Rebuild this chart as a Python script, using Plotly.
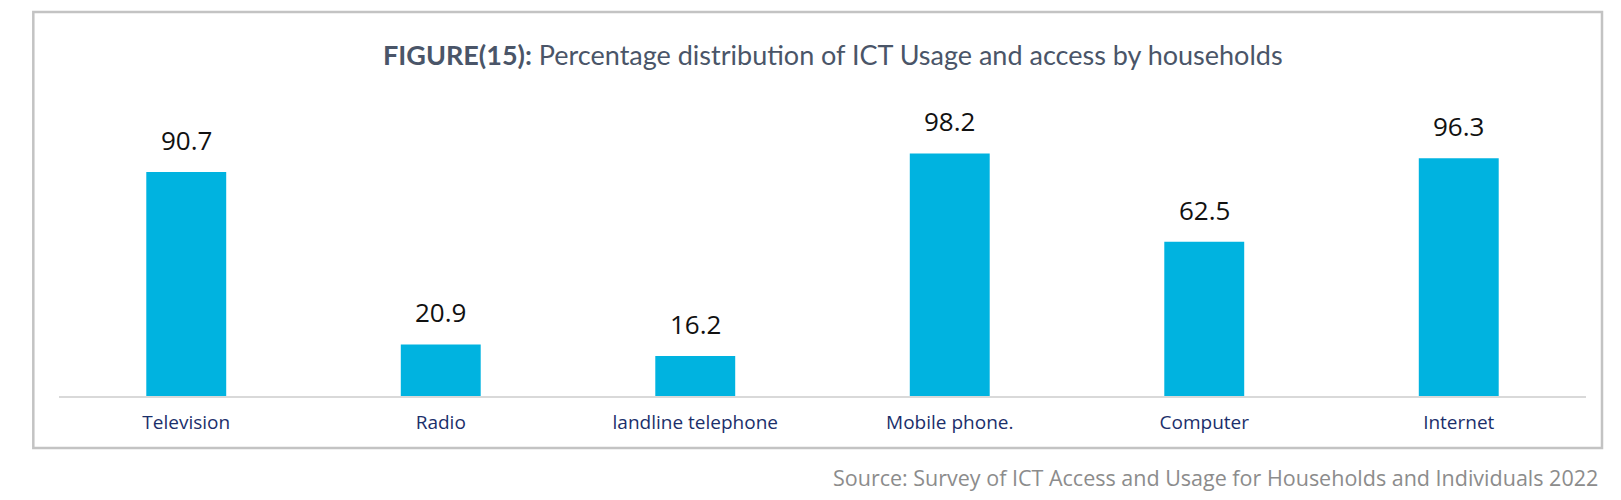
import plotly.graph_objects as go

categories = ["Television", "Radio", "landline telephone", "Mobile phone.", "Computer", "Internet"]
values = [90.7, 20.9, 16.2, 98.2, 62.5, 96.3]
value_labels = ["90.7", "20.9", "16.2", "98.2", "62.5", "96.3"]

title_bold = "FIGURE(15):"
title_rest = " Percentage distribution of ICT Usage and access by households"
source_text = "Source: Survey of ICT Access and Usage for Households and Individuals 2022"

W, H = 1621, 500
# plot area in pixels
left, right = 58.7, 1586
top, bottom = 149, 396

fig = go.Figure()
fig.add_trace(go.Bar(
    x=categories,
    y=values,
    marker=dict(color="#00B3E0", line=dict(width=0)),
    hoverinfo="x+y",
))

# value labels above the bars
for cat, val, lab in zip(categories, values, value_labels):
    fig.add_annotation(
        x=cat, y=val, text=lab, showarrow=False,
        yanchor="bottom", yshift=12,
        font=dict(family="Open Sans", size=26, color="#111111"),
    )

pw = right - left
ph = bottom - top

# outer frame around the chart
fig.add_shape(
    type="rect", xref="paper", yref="paper",
    x0=(33 - left) / pw, x1=(1602 - left) / pw,
    y0=(bottom - 448) / ph, y1=(bottom - 12) / ph,
    line=dict(color="#c3c3c3", width=2.5),
    layer="below",
)

# title
fig.add_annotation(
    xref="paper", yref="paper",
    x=(833 - left) / pw, y=(bottom - 54) / ph,
    text=f"<b>{title_bold}</b>{title_rest}",
    showarrow=False, xanchor="center", yanchor="middle",
    font=dict(family="Lato", size=27, color="#4a5568"),
)

# source note
fig.add_annotation(
    xref="paper", yref="paper",
    x=(1600 - left) / pw, y=(bottom - 477) / ph,
    text=source_text,
    showarrow=False, xanchor="right", yanchor="middle",
    font=dict(family="Open Sans", size=21.5, color="#8c8c8c"),
)

fig.update_layout(
    width=W, height=H,
    margin=dict(l=left, r=W - right, t=top, b=H - bottom, pad=0),
    paper_bgcolor="white",
    plot_bgcolor="white",
    bargap=0.686,
    showlegend=False,
)
fig.update_xaxes(
    showline=True, linecolor="#d9d9d9", linewidth=2,
    showgrid=False, ticks="", ticklabelstandoff=8,
    tickfont=dict(family="Open Sans", size=19, color="#1b2f6b"),
)
fig.update_yaxes(
    range=[0, 100], visible=False, showgrid=False, zeroline=False,
)

# drop the default page margin so the figure fills the window
fig.write_html(
    "out.html",
    config={"displayModeBar": False},
    post_script="document.body.style.margin='0';",
)
